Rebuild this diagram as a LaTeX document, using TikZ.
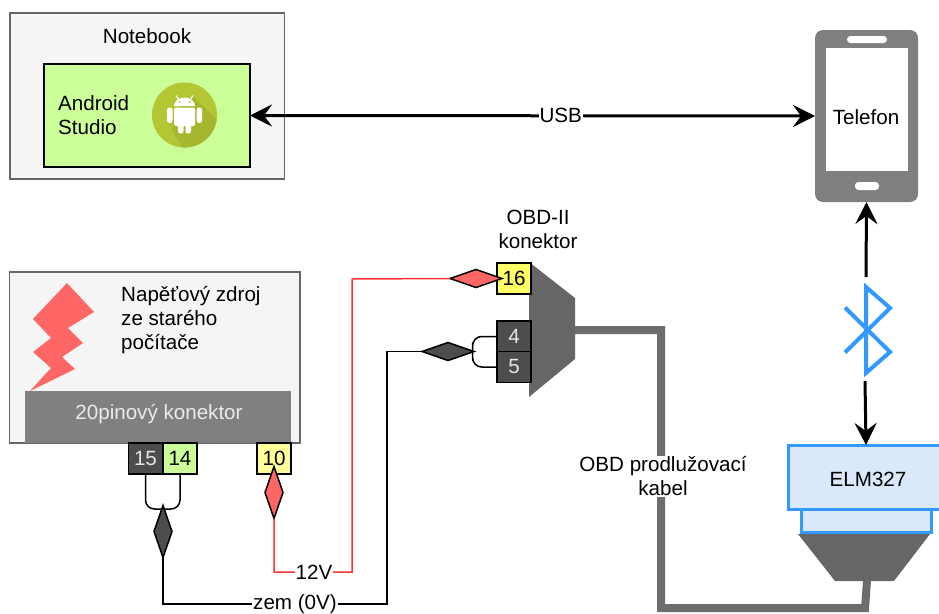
\documentclass[tikz,border=0pt]{standalone}
\usepackage{fontspec}
\setmainfont{Liberation Sans}
\usetikzlibrary{arrows.meta,shapes.geometric}
\definecolor{boxgray}{HTML}{F5F5F5}
\definecolor{edgegray}{HTML}{666666}
\definecolor{midgray}{HTML}{808080}
\definecolor{pindark}{HTML}{4D4D4D}
\definecolor{limegreen}{HTML}{CCFF99}
\definecolor{pinyellow}{HTML}{FFFF66}
\definecolor{paleyellow}{HTML}{FFFF99}
\definecolor{wirered}{HTML}{FF3333}
\definecolor{boltred}{HTML}{FF6666}
\definecolor{elmfill}{HTML}{DAE8FC}
\definecolor{btblue}{HTML}{3399FF}
\definecolor{droidgreen}{HTML}{B5C634}
\tikzset{
  txt/.style={font=\fontsize{20.6}{24}\selectfont,inner sep=0pt,align=center},
  txtleft/.style={txt,align=left,anchor=west},
  panel/.style={draw=edgegray,fill=boxgray,line width=1.5pt,inner sep=0pt,outer sep=0pt},
  plain/.style={inner sep=0pt,outer sep=0pt},
  pin/.style={txt,draw=black,line width=1.5pt,outer sep=0pt,minimum width=34pt,minimum height=31pt},
  pindk/.style={pin,fill=pindark,text=white!90!black},
  tip/.style={shape=diamond,aspect=1,draw=black,line width=1.5pt,inner sep=0pt,outer sep=0pt},
  tipv/.style={tip,minimum width=18pt,minimum height=52pt},
  tiph/.style={tip,minimum width=52pt,minimum height=18pt},
  wire/.style={black,line width=1.5pt,rounded corners=0pt},
  redwire/.style={wirered,line width=1.5pt},
  link/.style={black,line width=3pt,>={Stealth[length=22pt,width=22pt,inset=8pt]}},
  cable/.style={midgray!85!black,line width=8pt,line join=miter},
  elmbox/.style={txt,draw=btblue,fill=elmfill,line width=3pt,outer sep=0pt},
}
\begin{document}
\begin{tikzpicture}[x=1pt,y=-1pt]
   \path[clip,use as bounding box] (0,0) rectangle (939,613);
   \fill[white] (0,0) rectangle (939,613);
   % notebook
   \node[panel,minimum width=274.5pt,minimum height=166pt] (notebook) at (147,96) {};
   \node[txt] (notebooktxt) at (147,36) {Notebook};
   \node[plain,draw=black,line width=1.5pt,fill=limegreen,minimum width=206pt,minimum height=103pt] (studio) at (147,115.5) {};
   \node[txtleft] (studiotxt) at (58,115) {Android\\Studio};
   % android icon
   \fill[limegreen!93!droidgreen] (161.8,137.7) -- (207.2,92.3) -- (226,111) -- (181,156) -- cycle;
   \fill[droidgreen] (184.5,115) circle(32.5);
   \begin{scope}
     \clip (184.5,115) circle(32.5);
     \fill[droidgreen!92!black] (175,112) -- (194,97) -- (225,128) -- (190,160) -- (172,130) -- cycle;
   \end{scope}
   \draw[white,line width=1pt] (176,95.5) -- (179,100) (193,95.5) -- (190,100);
   \fill[white] (174,106) arc(180:360:10.5 and 8.5) -- cycle;
   \fill[white,rounded corners=1.5pt] (174,107.5) rectangle (195,126);
   \fill[white,rounded corners=2.5pt] (167,107.5) rectangle (172.5,123);
   \fill[white,rounded corners=2.5pt] (196.5,107.5) rectangle (202,123);
   \fill[white,rounded corners=2.5pt] (178,122) rectangle (183.5,133.5);
   \fill[white,rounded corners=2.5pt] (185.5,122) rectangle (191,133.5);
   \fill[droidgreen] (179.5,102) circle(1) (189.5,102) circle(1);
   % phone
   \node[plain,fill=midgray,rounded corners=8pt,minimum width=103pt,minimum height=172pt] (phone) at (866.5,116) {};
   \node[plain,fill=white,minimum width=82pt,minimum height=123pt] (screen) at (867,109.5) {};
   \node[txt] (phonetxt) at (866,117) {Telefon};
   \node[plain,fill=white,rounded corners=3.5pt,minimum width=40pt,minimum height=7pt] (slottop) at (867,39.5) {};
   \node[plain,fill=white,rounded corners=3.5pt,minimum width=24pt,minimum height=8pt] (slotlow) at (867,186) {};
   % usb
   \draw[link,<->] (studio.east) -- (phone.west) node[txt,pos=0.55,fill=white,inner xsep=1pt] (usb) {USB};
   % bluetooth
   \draw[btblue,line width=4pt,line join=miter] (845,307.5) -- (890,352) -- (866,373) -- (866,287) -- (890,308) -- (845,352.5);
   \coordinate (bttop) at (866,277);
   \coordinate (btlow) at (865,381);
   % elm327
   \node[elmbox,minimum width=156pt,minimum height=64pt] (elm) at (866,477) {};
   \node[txt] (elmtxt) at (868,479) {ELM327};
   \node[elmbox,minimum width=130pt,minimum height=23pt] (elmneck) at (866,520.5) {};
   \draw[link,->] (bttop) -- (phone.south);
   \draw[link,->] (btlow) -- (elm.north);
   % obd cable
   \coordinate (obdout) at (575,330);
   \coordinate (cabledown) at (661,330);
   \coordinate (cablelow) at (661,608);
   \coordinate (cablerise) at (865,608);
   \coordinate (plugout) at (867,581);
   \draw[cable] (obdout) -- (cabledown) -- (cablelow) -- (cablerise) -- (plugout);
   \node[txt,fill=white,inner sep=1pt] (cabletxt) at (663,476.5) {OBD prodlužovací\\kabel};
   % plugs
   \fill[edgegray] (798,534) -- (930,534) -- (894,581) -- (835,581) -- cycle;
   \fill[edgegray] (529,262) -- (575,298) -- (575,359) -- (529,397) -- cycle;
   % obd pins
   \node[txt] (obdtxt) at (538,229) {OBD-II\\konektor};
   \node[pin,fill=pinyellow] (p16) at (514,278.5) {16};
   \node[pindk] (p4) at (514,336.5) {4};
   \node[pindk] (p5) at (514,367) {5};
   % power supply
   \node[panel,minimum width=290.5pt,minimum height=171pt] (supply) at (154.75,357.5) {};
   \fill[boltred] (67,283) -- (94,312) -- (68,328) -- (83,343) -- (62,357) -- (75,369) -- (30,391)
      -- (51,368) -- (33,352) -- (51,338) -- (33,319) -- cycle;
   \node[txtleft] (supplytxt) at (121,320.5) {Napěťový zdroj\\ze starého\\počítače};
   \node[txt,fill=midgray,text=white!92!black,minimum width=266pt,minimum height=52pt] (pinbar) at (158,417) {};
   \node[txt,text=white!92!black] (pinbartxt) at (159,414) {20pinový konektor};
   \node[pindk] (p15) at (145.5,458.5) {15};
   \node[pin,fill=limegreen] (p14) at (180,458.5) {14};
   \node[pin,fill=paleyellow] (p10) at (274,458.5) {10};
   % wires
   \coordinate (gndjoin) at (163,509);
   \coordinate (gndlow) at (387,604);
   \coordinate (gndup) at (387,351.5);
   \coordinate (redlow) at (352,572);
   \coordinate (redup) at (352,279);
   \draw[wire,rounded corners=9pt] (p15.south) |- (gndjoin);
   \draw[wire,rounded corners=9pt] (p14.south) |- (gndjoin);
   \draw[wire,rounded corners=9pt] (p4.west) -| (472.7,351.5) |- (p5.west);
   \node[tipv,fill=pindark] (d15) at (163,531.5) {};
   \node[tiph,fill=pindark] (d4) at (448,351.5) {};
   \node[tipv,fill=boltred] (d10) at (274,492.5) {};
   \node[tiph,fill=boltred] (d16) at (476,278.5) {};
   \draw[wire] (d15.south) |- (gndlow) -- (gndup) -- (d4.west);
   \draw[redwire] (d10.south) |- (redlow) -- (redup) -- (d16.west);
   \node[txt,fill=white,inner xsep=1pt] (v12) at (314,572) {12V};
   \node[txt,fill=white,inner xsep=1pt] (v0) at (295,604) {zem (0V)};
  \end{tikzpicture}
\end{document}
